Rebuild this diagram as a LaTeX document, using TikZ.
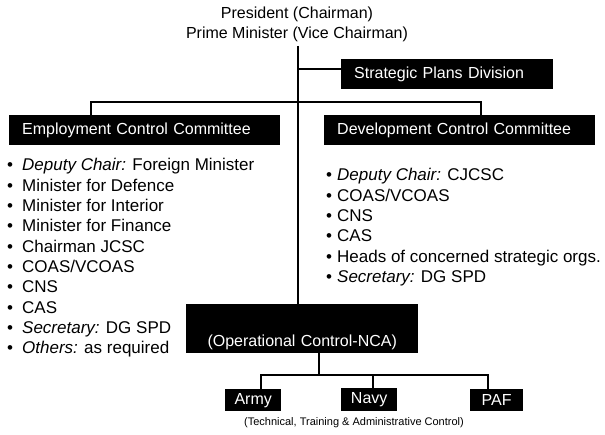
\documentclass[tikz,border=0pt]{standalone}
\usepackage{fontspec}
\setmainfont{Liberation Sans}
\begin{document}
\begin{tikzpicture}[x=1pt,y=-1pt,
  conn/.style={line width=2pt},
  bbox/.style={fill=black, text=white, inner sep=0pt, anchor=north west, align=left, font=\fontsize{16}{19}\selectfont},
  sbox/.style={fill=black, text=white, inner sep=0pt, anchor=north west, align=center, font=\fontsize{16}{19}\selectfont},
  item/.style={anchor=base west, inner sep=0pt, font=\fontsize{17}{19}\selectfont},
  ttl/.style={align=center, inner sep=0pt, font=\fontsize{16}{20}\selectfont},
]
\useasboundingbox (0,0) rectangle (605,435);

% title
\node[ttl, anchor=base] (t1) at (297,19) {President (Chairman)};
\node[ttl, anchor=base] (t2) at (297,39) {Prime Minister (Vice Chairman)};

% boxes
\node[bbox, minimum width=212pt, minimum height=30pt, text width=186pt] (spd) at (341,59) {Strategic Plans Division};
\node[bbox, minimum width=271pt, minimum height=30pt, text width=245pt] (ecc) at (9,115) {Employment Control Committee};
\node[bbox, minimum width=271pt, minimum height=30pt, text width=245pt] (dcc) at (324,115) {Development Control Committee};
\node[sbox, minimum width=232pt, text height=42pt, text depth=7pt, text width=232pt] (nca) at (186,304) {(Operational Control-NCA)};
\node[sbox, minimum width=56pt, minimum height=22pt] (army) at (225,389) {Army};
\node[sbox, minimum width=56pt, minimum height=23pt] (navy) at (341,388) {Navy};
\node[sbox, minimum width=53pt, minimum height=22pt] (paf) at (470,389) {PAF};
\node[inner sep=0pt, anchor=base, font=\fontsize{11}{13}\selectfont] (cap) at (354,425) {(Technical, Training \& Administrative Control)};

% left list
\node[item] (l1) at (7,171) {\makebox[15pt][l]{•}\textit{Deputy Chair:} Foreign Minister};
\node[item] (l2) at (7,191.3) {\makebox[15pt][l]{•}Minister for Defence};
\node[item] (l3) at (7,211.6) {\makebox[15pt][l]{•}Minister for Interior};
\node[item] (l4) at (7,231.9) {\makebox[15pt][l]{•}Minister for Finance};
\node[item] (l5) at (7,252.2) {\makebox[15pt][l]{•}Chairman JCSC};
\node[item] (l6) at (7,272.5) {\makebox[15pt][l]{•}COAS/VCOAS};
\node[item] (l7) at (7,292.8) {\makebox[15pt][l]{•}CNS};
\node[item] (l8) at (7,313.1) {\makebox[15pt][l]{•}CAS};
\node[item] (l9) at (7,333.4) {\makebox[15pt][l]{•}\textit{Secretary:} DG SPD};
\node[item] (l10) at (7,353.7) {\makebox[15pt][l]{•}\textit{Others:} as required};

% right list
\node[item] (r1) at (326,181) {\makebox[11pt][l]{•}\textit{Deputy Chair:} CJCSC};
\node[item] (r2) at (326,201.3) {\makebox[11pt][l]{•}COAS/VCOAS};
\node[item] (r3) at (326,221.6) {\makebox[11pt][l]{•}CNS};
\node[item] (r4) at (326,241.9) {\makebox[11pt][l]{•}CAS};
\node[item] (r5) at (326,262.2) {\makebox[11pt][l]{•}Heads of concerned strategic orgs.};
\node[item] (r6) at (326,282.5) {\makebox[11pt][l]{•}\textit{Secretary:} DG SPD};

% connectors
\coordinate (m0) at (298,46);
\coordinate (spdj) at (298,69);
\coordinate (busl) at (91,102);
\coordinate (busr) at (481,102);
\coordinate (lj) at (319,375);
\coordinate (ba) at (261,375);
\coordinate (bn) at (373,375);
\coordinate (bp) at (488,375);

\draw[conn] (m0) -- (m0 |- nca.north);
\draw[conn] (spdj) -- (spdj -| spd.west);
\draw[conn] (busl |- ecc.north) -- (busl) -- (busr) -- (busr |- dcc.north);
\draw[conn] (lj |- nca.south) -- (lj);
\draw[conn] (ba |- army.north) -- (ba) -- (bp) -- (bp |- paf.north);
\draw[conn] (bn) -- (bn |- navy.north);
\end{tikzpicture}
\end{document}
